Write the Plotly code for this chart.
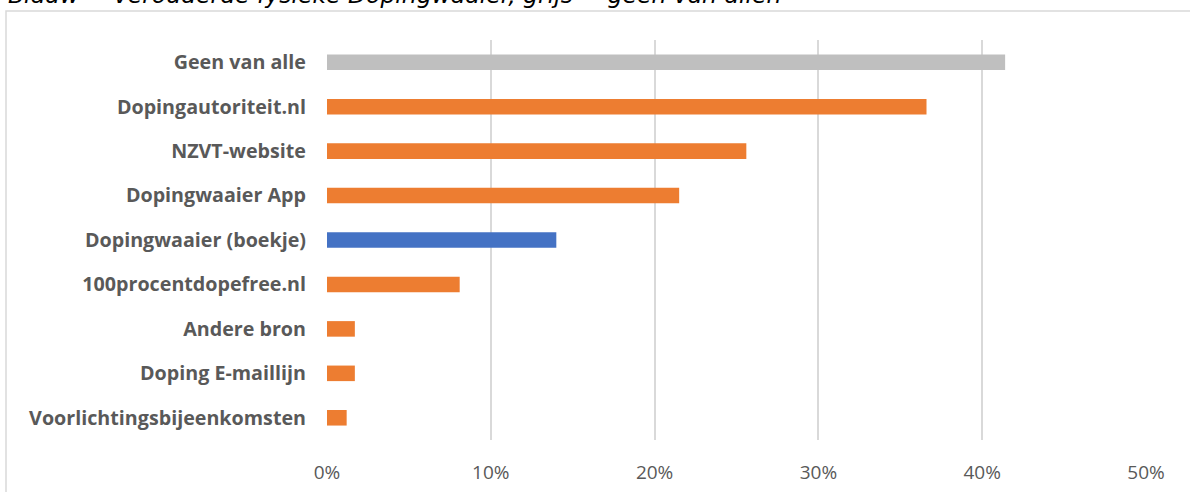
import plotly.graph_objects as go

categories = [
    "Geen van alle",
    "Dopingautoriteit.nl",
    "NZVT-website",
    "Dopingwaaier App",
    "Dopingwaaier (boekje)",
    "100procentdopefree.nl",
    "Andere bron",
    "Doping E-maillijn",
    "Voorlichtingsbijeenkomsten",
]
values = [0.414, 0.366, 0.256, 0.215, 0.140, 0.081, 0.017, 0.017, 0.012]
bar_colors = ["#BFBFBF", "#ED7D31", "#ED7D31", "#ED7D31", "#4472C4",
              "#ED7D31", "#ED7D31", "#ED7D31", "#ED7D31"]
tick_vals = [0, 0.1, 0.2, 0.3, 0.4, 0.5]
tick_text = ["0%", "10%", "20%", "30%", "40%", "50%"]
title_text = "Blauw = verouderde fysieke Dopingwaaier, grijs = geen van allen"

W, H = 1190, 492
ML, MR, MT, MB = 327, 44, 40, 52
PW, PH = W - ML - MR, H - MT - MB

fig = go.Figure(go.Bar(
    x=values, y=categories, orientation="h",
    marker=dict(color=bar_colors, line=dict(width=0)),
    hoverinfo="x+y",
))

fig.update_layout(
    width=W, height=H,
    margin=dict(l=ML, r=MR, t=MT, b=MB, autoexpand=False),
    paper_bgcolor="white", plot_bgcolor="white",
    bargap=0.65,
    showlegend=False,
    xaxis=dict(
        range=[0, 0.5], tickvals=tick_vals, ticktext=tick_text,
        showgrid=True, gridcolor="#D9D9D9", gridwidth=1.5,
        zeroline=False, showline=False, ticks="",
        tickfont=dict(family="Open Sans", size=19, color="#595959"),
        ticklabelstandoff=19, fixedrange=True, automargin=False,
    ),
    yaxis=dict(
        autorange="reversed", showgrid=False, zeroline=False,
        showline=False, ticks="",
        tickfont=dict(family="Open Sans", size=19.7, color="#595959", weight="bold"),
        ticklabelstandoff=20, fixedrange=True, automargin=False,
    ),
    shapes=[dict(
        type="rect", xref="paper", yref="paper",
        x0=(6 - ML) / PW, x1=1.2,
        y0=-0.3, y1=1 + (MT - 11) / PH,
        line=dict(color="#D9D9D9", width=1.5), fillcolor="rgba(0,0,0,0)",
        layer="below",
    )],
    annotations=[dict(
        text="<i>" + title_text + "</i>", xref="paper", yref="paper",
        x=(6 - ML) / PW, xanchor="left",
        y=1 + (MT - 11) / PH, yanchor="bottom", showarrow=False,
        font=dict(family="DejaVu Sans", size=23.5, color="#000000"),
    )],
)

fig.write_html("out.html", config={"displayModeBar": False},
               post_script="document.body.style.margin='0';")
